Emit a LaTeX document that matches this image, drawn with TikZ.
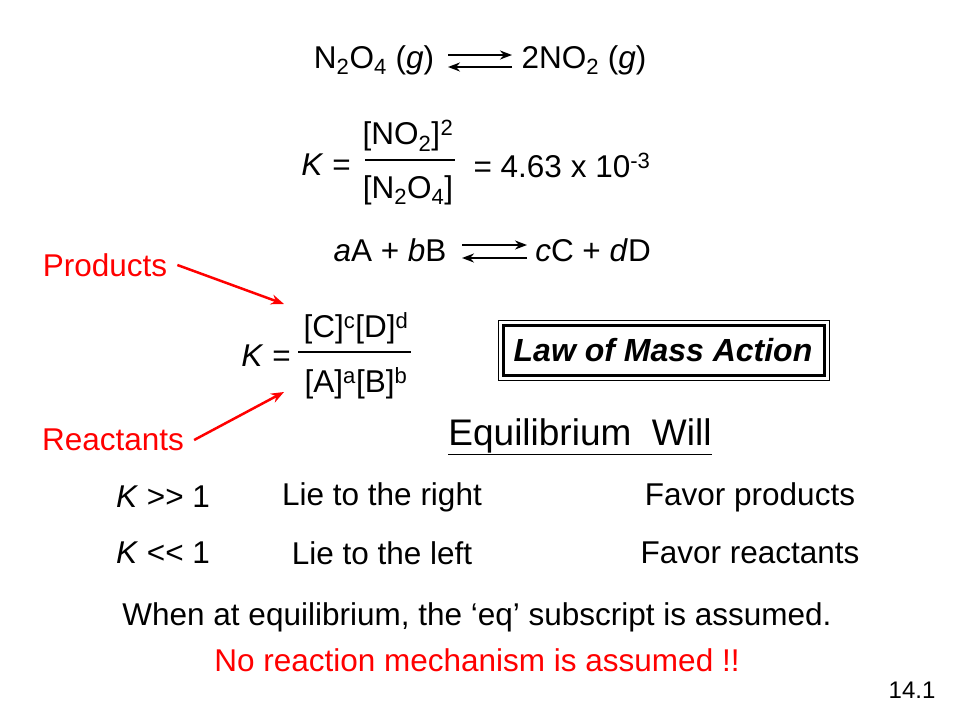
\documentclass[tikz,border=0pt]{standalone}
\usepackage{fontspec}
\setmainfont{Liberation Sans}
\usetikzlibrary{arrows.meta}
\tikzset{
>=Stealth,
txt/.style={font=\fontsize{31.5}{36}\selectfont,inner sep=0pt},
rot/.style={txt,text=red},
eqpfeil/.style={->,line width=2.5pt,>={Stealth[length=12pt,width=9pt]}},
rpfeil/.style={->,red,line width=2.5pt,>={Stealth[length=13pt,width=10pt]}},
bruch/.style={line width=2pt}}
\begin{document}
\begin{tikzpicture}[x=1pt,y=-1pt]
\useasboundingbox[fill=white] (0,0) rectangle (960,720);

% first equilibrium
\node[txt] (n2o4) at (374,60) {N\textsubscript{2}O\textsubscript{4} (\textit{g})};
\node[txt] (no2) at (584,60) {2NO\textsubscript{2} (\textit{g})};
\coordinate (e1l) at (448,55); \coordinate (e1r) at (512,55);
\coordinate (e2l) at (448,67); \coordinate (e2r) at (512,67);
\draw[eqpfeil] (e1l) -- (e1r);
\draw[eqpfeil] (e2r) -- (e2l);

% constant
\node[txt] (k1) at (326,165) {\textit{K} =};
\node[txt] (num1) at (408,136) {[NO\textsubscript{2}]\textsubscript{}\textsuperscript{2}};
\node[txt] (den1) at (408,190) {[N\textsubscript{2}O\textsubscript{4}]};
\coordinate (b1l) at (365,160); \coordinate (b1r) at (455,160);
\draw[bruch] (b1l) -- (b1r);
\node[txt] (wert) at (562,165) {= 4.63 x 10\textsuperscript{-3}};

% general equilibrium
\node[txt] (ab) at (390,250) {\textit{a}A + \textit{b}B};
\node[txt] (cd) at (593,250) {\textit{c}C + \textit{d}D};
\coordinate (g1l) at (462,245); \coordinate (g1r) at (527,245);
\coordinate (g2l) at (462,258); \coordinate (g2r) at (527,258);
\draw[eqpfeil] (g1l) -- (g1r);
\draw[eqpfeil] (g2r) -- (g2l);

% general constant
\node[txt] (k2) at (266,356) {\textit{K} =};
\node[txt] (num2) at (356,328) {[C]\textsuperscript{c}[D]\textsuperscript{d}};
\node[txt] (den2) at (356,383) {[A]\textsuperscript{a}[B]\textsuperscript{b}};
\coordinate (b2l) at (298,352); \coordinate (b2r) at (411,352);
\draw[bruch] (b2l) -- (b2r);

\node[rot] (prod) at (105,265) {Products};
\node[rot] (reak) at (113,440) {Reactants};
\coordinate (pziel) at (284,304);
\coordinate (rziel) at (284,392);
\draw[rpfeil] (prod.east) ++(10,0) -- (pziel);
\draw[rpfeil] (reak.east) ++(10,0) -- (rziel);

% box
\draw[line width=1pt] (498,320) rectangle (829,380);
\draw[line width=3pt] (503,325) rectangle (824,375);
\node[txt,font=\fontsize{32}{36}\selectfont\bfseries\itshape] (gesetz) at (663,350) {Law of Mass Action};

% table
\node[txt,font=\fontsize{37}{42}\selectfont] (titel) at (580,437) {\underline{Equilibrium\ \ Will}};
\node[txt] (gross) at (163,497) {\textit{K} {>}{>} 1};
\node[txt] (rechts) at (382,497) {Lie to the right};
\node[txt] (fprod) at (750,497) {Favor products};
\node[txt] (klein) at (163,553) {\textit{K} {<}{<} 1};
\node[txt] (links) at (382,553) {Lie to the left};
\node[txt] (freak) at (750,553) {Favor reactants};

\node[txt] (hinweis) at (477,617) {When at equilibrium, the ‘eq’ subscript is assumed.};
\node[rot] (mech) at (477,660) {No reaction mechanism is assumed !!};
\node[txt,font=\fontsize{24}{28}\selectfont] (seite) at (912,690) {14.1};
\end{tikzpicture}
\end{document}
